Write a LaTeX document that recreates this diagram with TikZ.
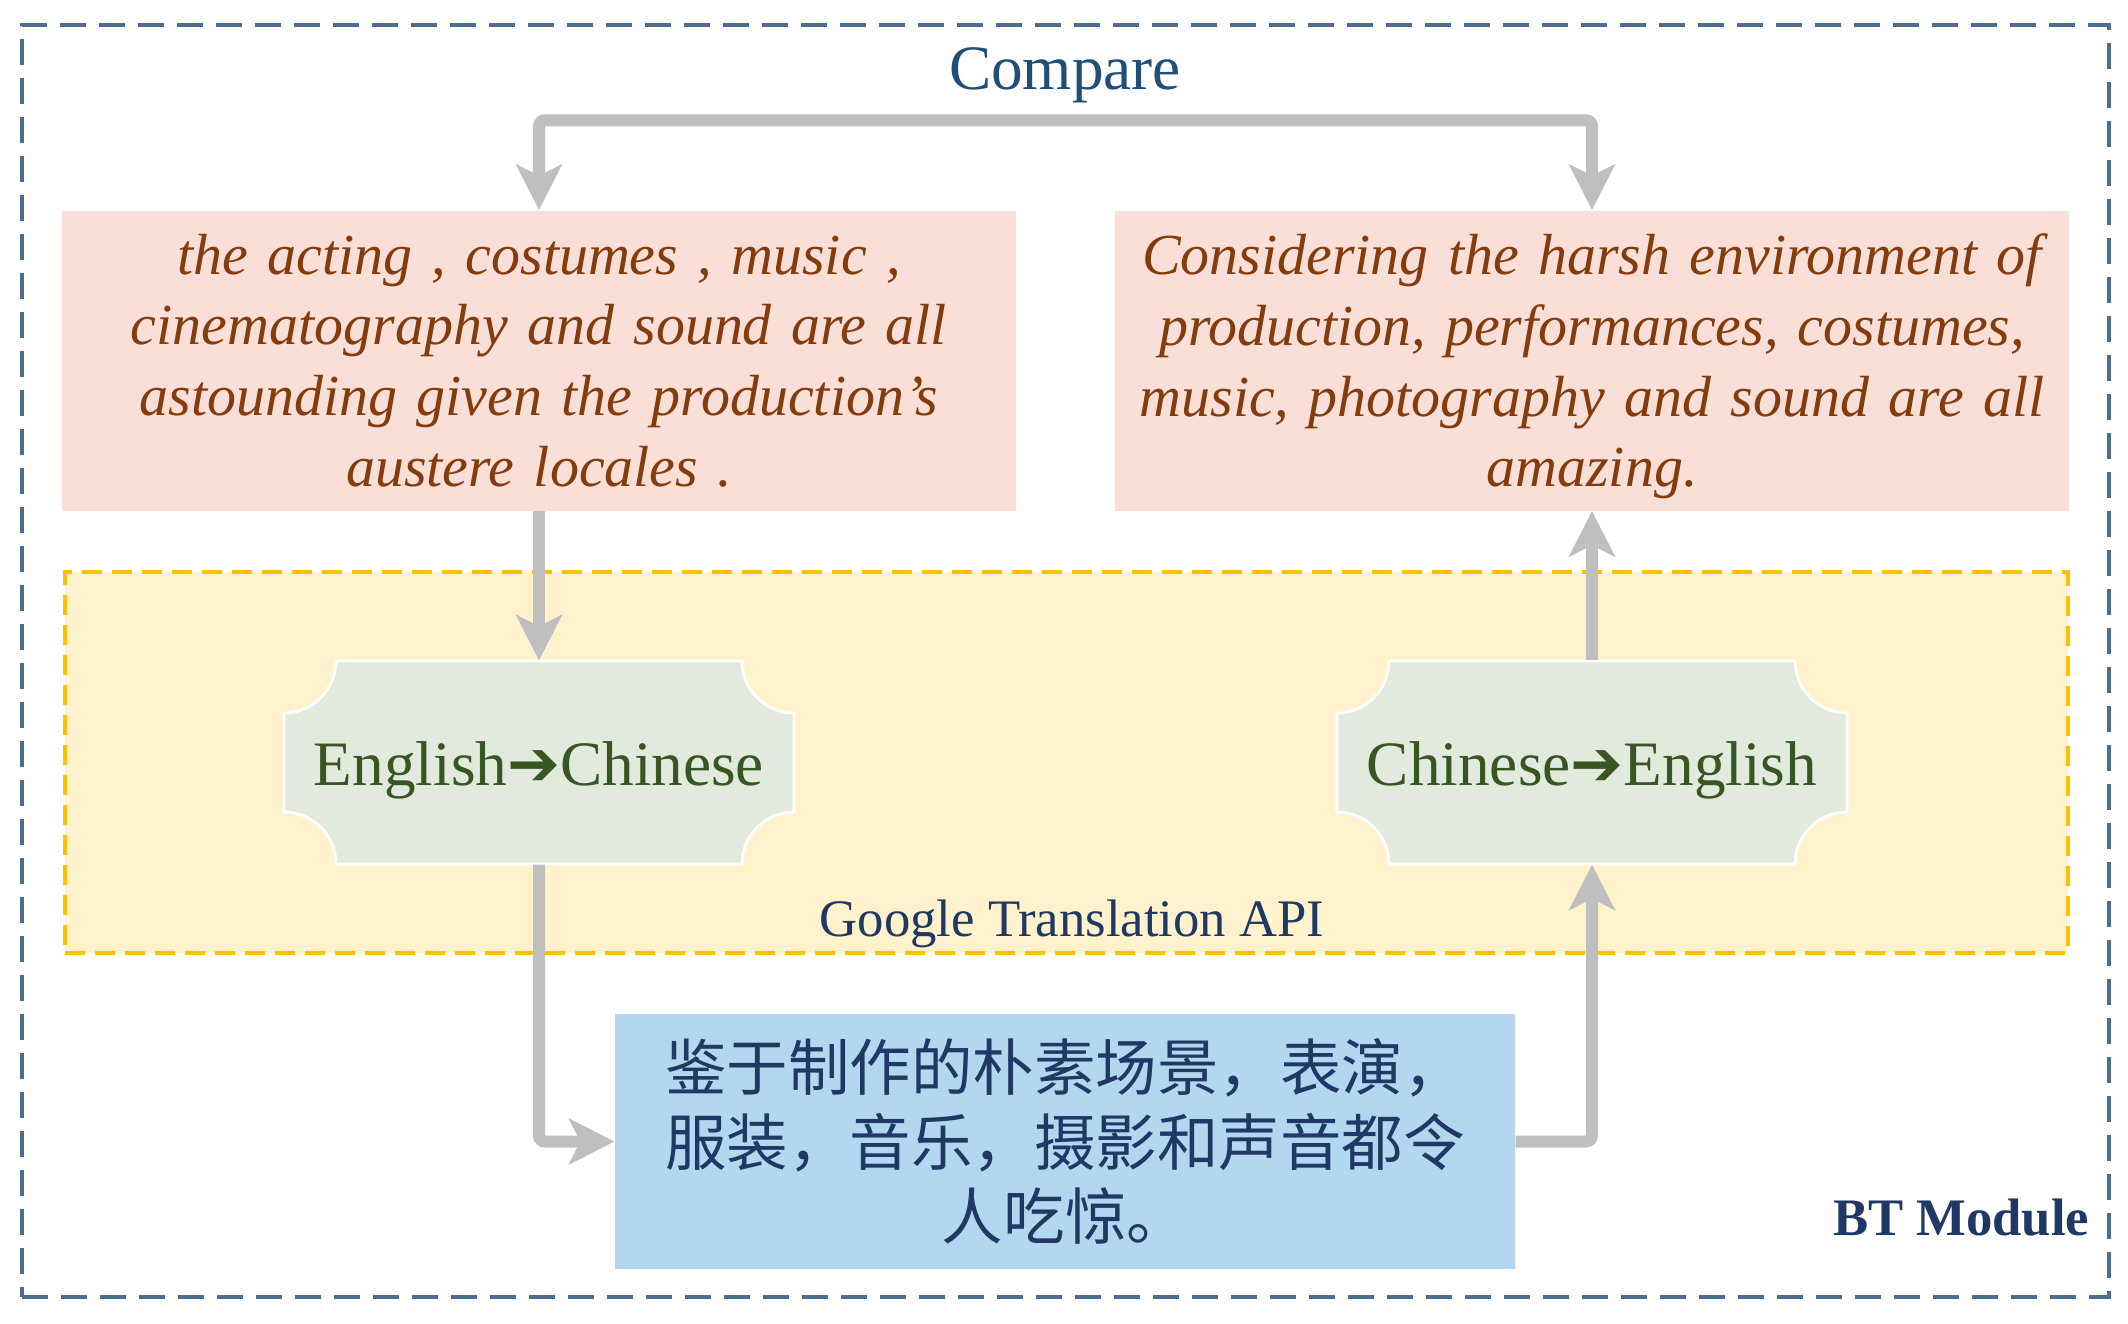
\documentclass[tikz,border=0pt]{standalone}
\usepackage{fontspec}
\setmainfont{Liberation Serif}
\newfontfamily\cjk{Noto Sans CJK SC}
\newfontfamily\djv{DejaVu Sans}
\usetikzlibrary{arrows.meta}
\definecolor{bordblue}{HTML}{4D6D8E}
\definecolor{ygold}{HTML}{FFC000}
\definecolor{yfill}{HTML}{FFF2CC}
\definecolor{pinkfill}{HTML}{F9DFD7}
\definecolor{pinktxt}{HTML}{843C0C}
\definecolor{gfill}{HTML}{E1EADC}
\definecolor{gtxt}{HTML}{375623}
\definecolor{zhfill}{HTML}{B3D7EE}
\definecolor{dblue}{HTML}{1F3864}
\definecolor{cblue}{HTML}{1F4E79}
\definecolor{arrgray}{HTML}{BFBFBF}
\tikzset{
  gtip/.tip={Stealth[length=4.6mm,width=4.7mm,inset=1.2mm,line width=0pt]},
  outerbox/.style={draw=bordblue, line width=1.2pt, dash pattern=on 2.6mm off 1.3mm,
    minimum width=208.7mm, minimum height=127.2mm, inner sep=0pt},
  ybox/.style={fill=yfill, draw=ygold, line width=0.9pt, dash pattern=on 2mm off 1mm,
    minimum width=200.3mm, minimum height=38.1mm, inner sep=0pt},
  pinkbox/.style={fill=pinkfill, text=pinktxt, minimum width=95.4mm, minimum height=30mm,
    text width=93mm, align=center, inner sep=0pt,
    font=\fontsize{16.5}{20.1}\selectfont\itshape},
  gnode/.style={text=gtxt, minimum width=51mm, minimum height=20.3mm, inner sep=0pt,
    text height=5.9mm, text depth=1.4mm, font=\fontsize{18}{21}\selectfont},
  plaque/.style={fill=gfill, draw=white, line width=0.8pt},
  zhbox/.style={fill=zhfill, text=dblue, minimum width=90mm, minimum height=25.5mm,
    text width=88mm, align=center, inner sep=0pt,
    font=\cjk\fontsize{17.5}{21.3}\selectfont},
  garrow/.style={draw=arrgray, line width=1.2mm, rounded corners=0.6mm, -gtip},
  lbl/.style={inner sep=0pt, text=dblue, font=\fontsize{15}{18}\selectfont},
}
\newcommand{\plaqueat}[2]{%
  \path[plaque] (#1,#2) ++(-203,-101.5) -- ++(406,0)
    arc[start angle=180,end angle=90,radius=52] -- ++(0,99)
    arc[start angle=270,end angle=180,radius=52] -- ++(-406,0)
    arc[start angle=0,end angle=-90,radius=52] -- ++(0,-99)
    arc[start angle=90,end angle=0,radius=52] -- cycle;}
\begin{document}
\begin{tikzpicture}[x=0.1mm,y=-0.1mm]
\useasboundingbox (0,0) rectangle (2128,1323);
% containers
\node[outerbox] (outer) at (1065.5,661) {};
\node[ybox] (api) at (1066.5,762.5) {};
% plaques
\plaqueat{539}{762.5}
\plaqueat{1592}{762.5}
% nodes
\node[inner sep=0pt, text=cblue, font=\fontsize{18}{20}\selectfont] (cmp) at (1065,75) {Compare};
\node[pinkbox] (src) at (539,360.5) {the acting , costumes , music ,\\ cinematography and sound are all\\ astounding given the production's\\ austere locales .};
\node[pinkbox] (bt) at (1592,360.5) {Considering the harsh environment of\\ production, performances, costumes,\\ music, photography and sound are all\\ \smash{amazing.}};
\node[gnode] (e2c) at (539,762.5) {English{\djv\bfseries ➔}Chinese};
\node[gnode] (c2e) at (1592,762.5) {Chinese{\djv\bfseries ➔}English};
\node[lbl] (apilbl) at (1072,924) {Google Translation API};
\node[zhbox] (zh) at (1065,1141.5) {鉴于制作的朴素场景，表演，\\服装，音乐，摄影和声音都令\\人吃惊。};
\node[lbl, anchor=east, font=\fontsize{15}{18}\selectfont\bfseries] (btm) at (2090,1218) {BT Module};
% connectors
\draw[garrow, gtip-gtip] (src.north) -- ++(0,-89.5) -| (bt.north);
\draw[garrow] (src.south) -- (e2c.north);
\draw[garrow] (e2c.south) |- (zh.west);
\draw[garrow] (zh.east) -| (c2e.south);
\draw[garrow] (c2e.north) -- (bt.south);
\end{tikzpicture}
\end{document}
